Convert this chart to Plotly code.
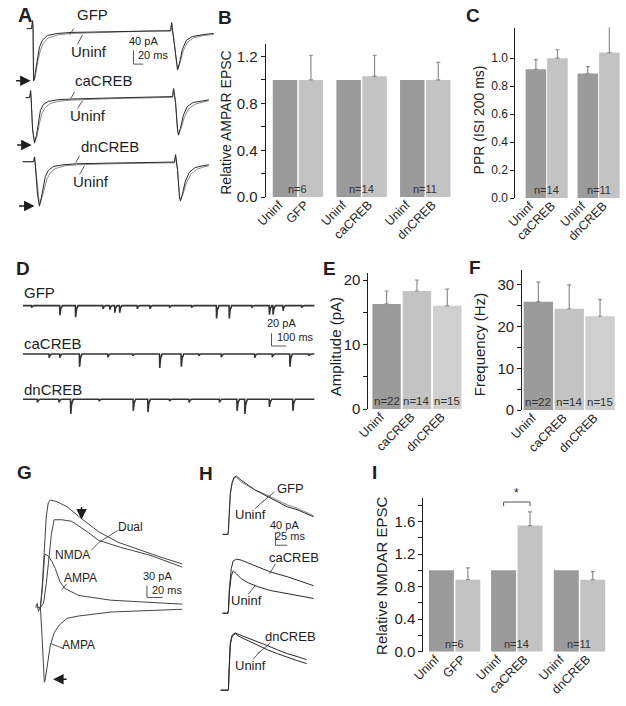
import plotly.graph_objects as go

W, H = 626, 706
FONT = "Liberation Sans, Arial, sans-serif"
INK = "#1e1e1e"
TR_DARK = "#2a2a2a"
TR_GRAY = "#8a8a8a"
BAR_DARK = "#9b9b9b"
BAR_LIGHT = "#c3c3c3"
BAR_LIGHTER = "#cfcfcf"
ERR_COL = "#8e8e8e"

# ---------------- DATA ----------------
# A: paired-pulse AMPAR EPSCs (time ms, current pA)
A_GFP_T = [-12, -2, 0, 1, 2, 4, 6, 10, 14, 20, 30, 50, 80, 160, 240, 282, 284, 286, 288, 294, 296, 300, 306, 314, 326, 350, 370]
A_GFP_I = [0, 0, 23, 0, -152, -146, -123, -83, -54, -34, -20, -14, -11, -9, -6, -6, 17, -6, -23, -109, -120, -100, -60, -34, -23, -17, -14]
A_UN1_T = [-12, -2, 0, 1, 2, 4, 7, 11, 16, 22, 32, 52, 80, 160, 240, 282, 284, 286, 288, 295, 297, 301, 308, 316, 328, 350, 370]
A_UN1_I = [0, 0, 23, 0, -148, -146, -126, -92, -63, -42, -27, -18, -14, -10, -7, -7, 17, -7, -23, -105, -115, -100, -64, -40, -27, -20, -17]
A_CA_T = [-10, -2, 0, 1, 4, 8, 12, 16, 20, 26, 36, 56, 84, 164, 244, 290, 292, 294, 296, 300, 302, 306, 312, 320, 332, 354, 364]
A_CA_I = [0, 0, 20, 0, -94, -132, -109, -66, -37, -20, -11, -6, -4, -1, 1, 3, 26, 3, -14, -94, -109, -89, -51, -26, -14, -9, -6]
A_UN2_T = [-10, -2, 0, 1, 4, 8, 13, 18, 23, 30, 40, 60, 84, 164, 244, 290, 292, 294, 296, 300, 302, 307, 314, 323, 336, 354, 364]
A_UN2_I = [0, 0, 20, 0, -90, -128, -112, -75, -46, -28, -17, -10, -7, -3, -1, 1, 26, 1, -14, -90, -105, -90, -57, -32, -19, -12, -9]
A_DN_T = [-24, -2, 0, 1, 6, 10, 14, 18, 22, 28, 38, 58, 86, 156, 236, 286, 288, 290, 292, 296, 298, 302, 308, 316, 328, 346, 356]
A_DN_I = [0, 0, 14, 0, -94, -129, -103, -66, -43, -26, -14, -9, -6, -4, -3, -1, 20, -1, -23, -103, -114, -94, -57, -31, -17, -11, -9]
A_UN3_T = [-24, -2, 0, 1, 6, 10, 15, 20, 25, 32, 42, 62, 86, 156, 236, 286, 288, 290, 292, 296, 298, 303, 310, 319, 332, 346, 356]
A_UN3_I = [0, 0, 14, 0, -90, -125, -106, -74, -51, -33, -20, -12, -9, -6, -4, -3, 20, -3, -23, -100, -110, -95, -62, -37, -22, -15, -12]

# B: relative AMPAR EPSC
B_CATS = ["Uninf", "GFP", "Uninf", "caCREB", "Uninf", "dnCREB"]
B_VALS = [1.0, 1.0, 1.0, 1.03, 1.0, 1.0]
B_ERR = [None, 0.21, None, 0.18, None, 0.15]
B_N = ["n=6", "n=14", "n=11"]

# C: paired-pulse ratio
C_CATS = ["Uninf", "caCREB", "Uninf", "dnCREB"]
C_VALS = [0.92, 1.0, 0.89, 1.04]
C_ERR = [0.07, 0.06, 0.05, 0.18]
C_N = ["n=14", "n=11"]

# D: mEPSC event times (ms) and amplitudes (pA)
D_GFP_T = [60, 253, 360, 547, 593, 627, 660, 780, 867, 1000, 1150, 1320, 1407, 1560, 1680, 1705, 1773, 1900]
D_GFP_A = [3, 15, 18, 5, 6, 11, 11, 5, 5, 3, 3, 20, 20, 3, 14, 14, 8, 3]
D_CA_T = [180, 253, 387, 580, 750, 933, 1080, 1200, 1353, 1580, 1700, 1820, 1950]
D_CA_A = [6, 6, 20, 5, 3, 22, 20, 3, 5, 6, 5, 20, 3]
D_DN_T = [100, 247, 327, 520, 753, 853, 1000, 1133, 1340, 1460, 1513, 1680, 1840]
D_DN_A = [5, 5, 23, 3, 18, 20, 3, 5, 5, 18, 23, 12, 18]

# E / F: mEPSC amplitude and frequency
EF_CATS = ["Uninf", "caCREB", "dnCREB"]
E_VALS = [16.3, 18.3, 16.0]
E_ERR = [2.0, 1.7, 2.6]
F_VALS = [26.0, 24.3, 22.5]
F_ERR = [4.7, 5.7, 4.0]
EF_N = ["n=22", "n=14", "n=15"]

# G: dual / NMDA / AMPA components (ms, pA)
G_DUAL_T = [-5, 0, 2.5, 5, 7.5, 10, 12.5, 21, 34, 52.5, 74, 99, 131, 152.5, 181]
G_DUAL_I = [0, 0, 60, 160, 230, 265, 272, 268, 255, 225, 192, 165, 142, 128, 110]
G_NMDA_T = [0, 4, 7.5, 11, 14, 17.5, 27.5, 40, 61, 74, 102.5, 140, 181]
G_NMDA_I = [0, 10, 60, 135, 185, 222, 222, 218, 190, 170, 152, 132, 102]
G_AMPA_OUT_T = [0, 2.5, 5, 6, 10, 15, 19, 25, 31, 40, 49, 90, 181]
G_AMPA_OUT_I = [0, 48, 122, 135, 130, 115, 98, 65, 48, 38, 30, 18, 8]
G_AMPA_IN_T = [-6, -4, -2.5, -1, 0, 2.5, 4, 5, 6, 9, 12.5, 17.5, 24, 34, 49, 90, 181]
G_AMPA_IN_I = [0, 10, -10, 0, 0, -90, -165, -190, -185, -140, -98, -65, -45, -28, -22, -12, -5]

# H: NMDAR EPSCs (ms, pA)
H_GFP_T = [-12.5, -1, 0, 2, 4, 8, 12.5, 17, 27, 42, 56, 73, 89, 108, 125, 146, 160, 181]
H_GFP_I = [0, 0, 12, 77, 129, 163, 179, 182, 169, 154, 139, 126, 114, 99, 86, 77, 68, 55]
H_UN1_I = [0, 0, 12, 72, 124, 160, 176, 178, 164, 151, 139, 129, 118, 104, 92, 82, 72, 58]
H_CA_T = [-12.5, -1, 0, 2, 6, 10, 17, 27, 42, 62, 89, 125, 156, 181]
H_CA_I = [0, 0, 9, 77, 139, 163, 169, 166, 157, 145, 129, 114, 99, 86]
H_UN2_I = [0, 0, 9, 68, 117, 132, 123, 108, 95, 83, 71, 62, 52, 46]
H_DN_T = [-16.6, 0, 2, 4, 8, 14.5, 25, 42, 62, 83, 104, 125, 146, 166]
H_DN_I = [0, 0, 86, 148, 172, 179, 172, 163, 151, 139, 126, 114, 105, 95]
H_UN3_I = [0, 0, 80, 142, 169, 176, 166, 154, 142, 126, 114, 102, 92, 83]

# I: relative NMDAR EPSC
I_CATS = ["Uninf", "GFP", "Uninf", "caCREB", "Uninf", "dnCREB"]
I_VALS = [1.0, 0.885, 1.0, 1.55, 1.0, 0.885]
I_ERR = [None, 0.145, None, 0.17, None, 0.1]
I_N = ["n=6", "n=14", "n=11"]

# ---------------- FIGURE ----------------
fig = go.Figure()
lay = dict(width=W, height=H, margin=dict(l=0, r=0, t=0, b=0),
           paper_bgcolor="white", plot_bgcolor="rgba(0,0,0,0)",
           showlegend=False, barmode="overlay",
           font=dict(family=FONT, color=INK))
annotations = []
shapes = []
_n = [0]


def add_axes(xpx, ypx, xr, yr, xkw=None, ykw=None):
    _n[0] += 1
    s = "" if _n[0] == 1 else str(_n[0])
    xk = dict(domain=[xpx[0] / W, xpx[1] / W], range=xr, anchor="y" + s,
              showgrid=False, zeroline=False, fixedrange=True, visible=False)
    yk = dict(domain=[1 - ypx[1] / H, 1 - ypx[0] / H], range=yr, anchor="x" + s,
              showgrid=False, zeroline=False, fixedrange=True, visible=False)
    if xkw:
        xk.update(xkw)
    if ykw:
        yk.update(ykw)
    lay["xaxis" + s] = xk
    lay["yaxis" + s] = yk
    return "x" + s, "y" + s


def trace_axes(xpx, ypx, t0px, base_py, ms_px, pa_px):
    xr = [(xpx[0] - t0px) * ms_px, (xpx[1] - t0px) * ms_px]
    yr = [(base_py - ypx[1]) * pa_px, (base_py - ypx[0]) * pa_px]
    return add_axes(xpx, ypx, xr, yr)


def line(ax, t, i, color, width=1.0):
    fig.add_trace(go.Scatter(x=t, y=i, mode="lines", line=dict(color=color, width=width),
                             xaxis=ax[0], yaxis=ax[1], hoverinfo="skip"))


def scalebar(ax, t0, i0, dt, di, color="#555555"):
    shapes.append(dict(type="path", xref=ax[0], yref=ax[1],
                       path=f"M {t0},{i0 + di} L {t0},{i0} L {t0 + dt},{i0}",
                       line=dict(color=color, width=1)))


def text(s, cx, cy, size, bold=False, angle=0, xanchor="center"):
    annotations.append(dict(text=("<b>%s</b>" % s) if bold else s, x=cx / W, y=1 - cy / H,
                            xref="paper", yref="paper", showarrow=False,
                            font=dict(size=size, family=FONT, color=INK),
                            textangle=angle, xanchor=xanchor, yanchor="middle"))


def seg(x0, y0, x1, y1, color="#333333", width=0.8):
    shapes.append(dict(type="line", xref="paper", yref="paper",
                       x0=x0 / W, y0=1 - y0 / H, x1=x1 / W, y1=1 - y1 / H,
                       line=dict(color=color, width=width)))


def arrow(tipx, tipy, tailx, taily):
    annotations.append(dict(x=tipx / W, y=1 - tipy / H, xref="paper", yref="paper",
                            ax=tailx - tipx, ay=taily - tipy, showarrow=True, text="",
                            arrowhead=2, arrowsize=1.4, arrowwidth=1.5, arrowcolor=INK))


def bar_panel(xpx, ypx, ymax, centers, width, cats, vals, errs, colors,
              ncenters, nlabels, ytickvals, yfmt, minor_dtick, tick_size, n_size):
    xkw = dict(visible=True, showline=False, ticks="", tickvals=centers, ticktext=cats,
               tickangle=-45, ticklabelshift=-6, ticklabelstandoff=-3,
               tickfont=dict(size=12.5, family=FONT, color=INK))
    ykw = dict(visible=True, showline=True, linecolor=INK, linewidth=1, ticks="outside",
               ticklen=4, tickwidth=1, tickcolor=INK, tickvals=ytickvals, tickformat=yfmt,
               tickfont=dict(size=tick_size, family=FONT, color=INK))
    if minor_dtick:
        ykw["minor"] = dict(ticks="outside", ticklen=4, tickwidth=1, tickcolor=INK,
                            dtick=minor_dtick, tick0=0)
    ax = add_axes(xpx, ypx, [xpx[0], xpx[1]], [0, ymax], xkw, ykw)
    for xc, v, e, c in zip(centers, vals, errs, colors):
        kw = {}
        if e is not None:
            kw["error_y"] = dict(type="data", array=[e], arrayminus=[0], symmetric=False,
                                 color=ERR_COL, thickness=1.2, width=2)
        fig.add_trace(go.Bar(x=[xc], y=[v], width=[width], marker_color=c,
                             marker_line_width=0, xaxis=ax[0], yaxis=ax[1],
                             hoverinfo="skip", **kw))
    for xc, lab in zip(ncenters, nlabels):
        annotations.append(dict(text=lab, x=xc, y=0, xref=ax[0], yref=ax[1], showarrow=False,
                                yanchor="bottom", xanchor="center", yshift=0,
                                font=dict(size=n_size, family=FONT, color="#333333")))
    return ax


def grouped_centers(group_centers, pitch, k):
    out = []
    for g in group_centers:
        for j in range(k):
            out.append(g + (j - (k - 1) / 2) * pitch)
    return out


# ---- Panel A ----
a1 = trace_axes([0, 210], [0, 90], 20, 27, 2.0, 2.86)
a2 = trace_axes([0, 210], [60, 155], 18, 97, 2.0, 2.86)
a3 = trace_axes([0, 210], [125, 215], 22, 162, 2.0, 2.86)
line(a1, A_UN1_T, A_UN1_I, TR_GRAY)
line(a1, A_GFP_T, A_GFP_I, TR_DARK)
line(a2, A_UN2_T, A_UN2_I, TR_GRAY)
line(a2, A_CA_T, A_CA_I, TR_DARK)
line(a3, A_UN3_T, A_UN3_I, TR_GRAY)
line(a3, A_DN_T, A_DN_I, TR_DARK)
scalebar(a1, 206, -103, 20, 40)
text("A", 12, 13, 20, bold=True)
text("GFP", 81, 13, 15)
text("Uninf", 78, 50, 15)
text("caCREB", 93, 80, 15)
text("Uninf", 77, 115, 15)
text("dnCREB", 99, 147, 15)
text("Uninf", 80, 182, 15)
text("40 pA", 133, 40, 11)
text("20 ms", 143, 54, 11)
seg(62, 27, 58, 33)
seg(66, 43, 71, 33)
seg(63, 91, 59, 98)
seg(66, 108, 71, 100)
seg(68, 156, 64, 163)
seg(68, 175, 73, 166)
arrow(18, 80, 2, 80)
arrow(19, 145, 3, 145)
arrow(22, 207, 5, 207)

# ---- Panel B ----
b_cent = grouped_centers([291, 356, 421], 26.5, 2)
bar_panel([258, 452], [43, 198], 1.3025, b_cent, 25, B_CATS, B_VALS, B_ERR,
          [BAR_DARK, BAR_LIGHT] * 3, [291, 356, 421], B_N, [0, 0.4, 0.8, 1.2], ".1f", 0.2, 15, 11)
text("B", 216, 16, 19, bold=True)
text("Relative AMPAR EPSC", 218, 122, 14, angle=-90)

# ---- Panel C ----
c_cent = grouped_centers([545, 598], 22, 2)
bar_panel([513, 626], [26, 199], 1.218, c_cent, 21, C_CATS, C_VALS, C_ERR,
          [BAR_DARK, BAR_LIGHT] * 2, [545, 598], C_N, [0, 0.2, 0.4, 0.6, 0.8, 1.0], ".1f", None, 12, 11)
text("C", 470, 14, 19, bold=True)
text("PPR (ISI 200 ms)", 476, 120, 14, angle=-90)

# ---- Panel D ----
def spike_train(times, amps, t_end):
    xs, ys = [0], [0]
    for t, a in zip(times, amps):
        for px_, py_ in [(t - 2, 0), (t, -a), (t + 5, -0.35 * a), (t + 16, 0)]:
            if px_ > xs[-1]:
                xs.append(px_)
                ys.append(py_)
    xs.append(t_end)
    ys.append(0)
    return xs, ys

d1 = trace_axes([10, 308], [298, 352], 10, 308, 6.67, 1.54)
d2 = trace_axes([10, 308], [347, 375], 10, 357, 6.67, 1.54)
d3 = trace_axes([10, 308], [393, 421], 10, 403, 6.67, 1.54)
for ax, tt, aa in [(d1, D_GFP_T, D_GFP_A), (d2, D_CA_T, D_CA_A), (d3, D_DN_T, D_DN_A)]:
    xs, ys = spike_train(tt, aa, 1987)
    line(ax, xs, ys, "#333333", 1.6)
scalebar(d1, 1694, -63, 100, 20)
text("D", 10, 270, 19, bold=True)
text("GFP", 27, 295, 15)
text("caCREB", 41, 346, 15)
text("dnCREB", 41, 393, 15)
text("20 pA", 274, 326, 11)
text("100 ms", 288, 340, 11)

# ---- Panel E ----
e_cent = [381.5, 412.5, 443.5]
bar_panel([363, 460], [275, 413], 21.07, e_cent, 29, EF_CATS, E_VALS, E_ERR,
          [BAR_DARK, BAR_LIGHT, BAR_LIGHTER], e_cent, EF_N, [0, 10, 20], None, 5, 15, 11.5)
text("E", 323, 270, 19, bold=True)
text("Amplitude (pA)", 329, 350, 15, angle=-90)

# ---- Panel F ----
f_cent = [536.5, 568, 599.5]
bar_panel([520, 616], [272, 414], 33.55, f_cent, 30, EF_CATS, F_VALS, F_ERR,
          [BAR_DARK, BAR_LIGHT, BAR_LIGHTER], f_cent, EF_N, [0, 10, 20, 30], None, 5, 15, 11.5)
text("F", 472, 269, 19, bold=True)
text("Frequency (Hz)", 476, 348, 15, angle=-90)

# ---- Panel G ----
g = trace_axes([0, 200], [480, 706], 28, 614, 1.25, 2.5)
line(g, G_AMPA_IN_T, G_AMPA_IN_I, "#444444")
line(g, G_AMPA_OUT_T, G_AMPA_OUT_I, "#444444")
line(g, G_NMDA_T, G_NMDA_I, "#444444")
line(g, G_DUAL_T, G_DUAL_I, "#444444")
scalebar(g, 136, 25, 20, 30)
text("G", 12, 477, 19, bold=True)
text("Dual", 120, 533, 12)
text("NMDA", 61, 561, 12)
text("AMPA", 69, 584, 12)
text("AMPA", 67, 652, 12)
text("30 pA", 148, 582, 11)
text("20 ms", 157, 596, 11)
seg(107, 536, 88, 548)
seg(80, 556, 88, 548)
seg(55, 590, 50, 596)
seg(52, 656, 39, 651)
arrow(70, 525, 70, 511)
arrow(41, 687, 56, 687)

# ---- Panel H ----
h1 = trace_axes([200, 320], [470, 560], 220, 540, 2.08, 3.08)
h2 = trace_axes([200, 320], [550, 630], 220, 620, 2.08, 3.08)
h3 = trace_axes([200, 320], [630, 706], 220, 698, 2.08, 3.08)
line(h1, H_GFP_T, H_UN1_I, TR_GRAY)
line(h1, H_GFP_T, H_GFP_I, TR_DARK)
line(h2, H_CA_T, H_UN2_I, TR_DARK)
line(h2, H_CA_T, H_CA_I, TR_DARK)
line(h3, H_DN_T, H_UN3_I, TR_DARK)
line(h3, H_DN_T, H_DN_I, TR_DARK)
scalebar(h1, 100, -34, 25, 40)
text("H", 197, 478, 19, bold=True)
text("GFP", 283, 493, 13)
text("Uninf", 243, 520, 13)
text("40 pA", 277, 531, 11)
text("25 ms", 283, 542, 11)
text("caCREB", 287, 563, 13)
text("Uninf", 238, 607, 13)
text("dnCREB", 283, 644, 13)
text("Uninf", 243, 673, 13)
seg(267, 497, 255, 507)
seg(247, 514, 256, 506)
seg(268, 570, 262, 580)
seg(240, 601, 248, 591)
seg(263, 650, 250, 661)
seg(245, 667, 252, 659)

# ---- Panel I ----
i_cent = grouped_centers([451, 514.5, 578.5], 27, 2)
iax = bar_panel([419, 612], [503, 659], 1.891, i_cent, 25.5, I_CATS, I_VALS, I_ERR,
                [BAR_DARK, BAR_LIGHT] * 3, [451, 514.5, 578.5], I_N,
                [0, 0.4, 0.8, 1.2, 1.6], ".1f", 0.2, 15, 11)
shapes.append(dict(type="path", xref=iax[0], yref=iax[1],
                   path=f"M {i_cent[2]},1.79 L {i_cent[2]},1.84 L {i_cent[3]},1.84 L {i_cent[3]},1.79",
                   line=dict(color="#555555", width=1)))
annotations.append(dict(text="*", x=(i_cent[2] + i_cent[3]) / 2, y=1.84, xref=iax[0], yref=iax[1],
                        showarrow=False, yanchor="bottom", font=dict(size=12, family=FONT, color=INK)))
text("I", 369, 477, 19, bold=True)
text("Relative NMDAR EPSC", 377, 582, 15, angle=-90)

lay["annotations"] = annotations
lay["shapes"] = shapes
fig.update_layout(**lay)
fig.write_html("out.html", config={"displayModeBar": False, "staticPlot": True},
               post_script="document.body.style.margin='0px';document.body.style.padding='0px';")
